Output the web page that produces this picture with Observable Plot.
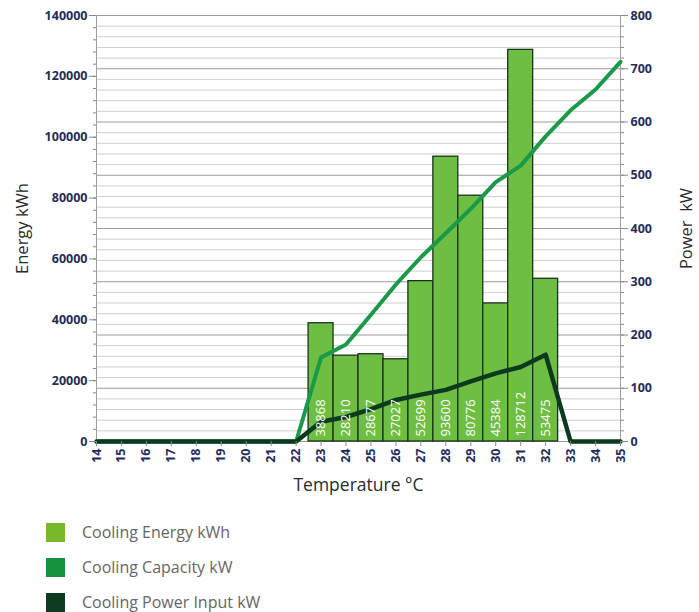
<!DOCTYPE html>
<html>
<head>
<meta charset="utf-8">
<script src="https://cdn.jsdelivr.net/npm/d3@7"></script>
<script src="https://cdn.jsdelivr.net/npm/@observablehq/plot@0.6"></script>
<style>
  html, body { margin: 0; background: #fff; font-family: "Open Sans", sans-serif; overflow: hidden; }
  #chart svg { display: block; }
  .legend { position: relative; height: 102px; }
  .item { position: absolute; left: 46px; height: 19px; line-height: 19px; display: flex; align-items: center; font-size: 16px; color: #666; white-space: nowrap; }
  .sw { width: 19px; height: 19px; margin-right: 17px; flex: none; }
</style>
</head>
<body>
<div id="chart"></div>
<div class="legend" id="legend"></div>
<script>
const temps = d3.range(14, 36);
const barTemps = [23, 24, 25, 26, 27, 28, 29, 30, 31, 32];
const energy = [38868, 28210, 28677, 27027, 52699, 93600, 80776, 45384, 128712, 53475];
const capacity = [0,0,0,0,0,0,0,0,0, 158, 182, 238, 295, 346, 391, 437, 487, 518, 573, 622, 661, 713];
const powerInput = [0,0,0,0,0,0,0,0,0, 37, 46, 61, 78, 88, 97, 113, 128, 140, 163, 0, 0, 0];
const energyTicks = d3.range(0, 140001, 20000);
const powerTicks = d3.range(0, 801, 100);
const seriesNames = ["Cooling Energy kWh", "Cooling Capacity kW", "Cooling Power Input kW"];
const seriesColors = ["#78b929", "#16913d", "#0e3a1f"];

const K = 140000 / 800; // power -> energy scale factor
const bars = barTemps.map((t, i) => ({t, e: energy[i]}));
const capData = temps.map((t, i) => ({t, p: capacity[i] * K}));
const powData = temps.map((t, i) => ({t, p: powerInput[i] * K}));
const grid = d3.range(0, 801, 20).filter(v => v % 100 !== 0).map(v => v * K);
const gridMajor = powerTicks.map(v => v * K);

const navy = "#1f2d5a";
const chart = Plot.plot({
  width: 699,
  height: 510,
  marginLeft: 96,
  marginRight: 79,
  marginTop: 15,
  marginBottom: 69,
  style: {fontFamily: "Open Sans, sans-serif", fontSize: "12px"},
  x: {domain: [14, 35], type: "linear"},
  y: {domain: [0, 140000]},
  marks: [
    Plot.ruleY(grid, {stroke: "#cfcfcf", strokeWidth: 1}),
    Plot.ruleY(gridMajor, {stroke: "#9a9a9a", strokeWidth: 1}),
    Plot.ruleX([35], {stroke: "#a0a0a0"}),
    Plot.ruleX([14], {stroke: "#a0a0a0"}),
    Plot.rectY(bars, {x1: d => d.t - 0.5, x2: d => d.t + 0.5, y: "e", fill: "#6fbe44", stroke: "#17331b", strokeWidth: 1.3}),
    Plot.line(capData, {x: "t", y: "p", stroke: "#1a9a48", strokeWidth: 4}),
    Plot.line(powData, {x: "t", y: "p", stroke: "#0b3a1e", strokeWidth: 4.5}),
    Plot.text(bars, {x: "t", y: 0, text: d => String(d.e), rotate: -90, textAnchor: "start", dy: -5, fill: "white", fontSize: 13}),
    Plot.axisY(d3.range(0, 140001, 4000), {anchor: "left", tickSize: 3, tickFormat: () => "", stroke: "#888", label: null}),
    Plot.axisY(energyTicks, {anchor: "left", tickSize: 7, tickPadding: 2, tickFormat: d => String(d), fill: navy, stroke: "#888", fontWeight: "bold", fontSize: 12.5, label: null}),
    Plot.axisY(d3.range(0, 801, 20).map(v => v * K), {anchor: "right", tickSize: 3, tickFormat: () => "", stroke: "#888", label: null}),
    Plot.axisY(gridMajor, {anchor: "right", tickSize: 7, tickPadding: 3, tickFormat: d => String(Math.round(d / K)), fill: navy, stroke: "#888", fontWeight: "bold", fontSize: 12.5, label: null}),
    Plot.axisX(temps, {anchor: "bottom", tickRotate: -90, tickSize: 5, tickPadding: 2, tickFormat: d => String(d), fill: navy, stroke: "#888", fontWeight: "bold", fontSize: 12.5, label: null}),
    Plot.text(["Energy kWh"], {frameAnchor: "left", textAnchor: "middle", dx: -74, rotate: -90, fontSize: 16.5, fill: "#2a2a2a"}),
    Plot.text(["Power  kW"], {frameAnchor: "right", textAnchor: "middle", dx: 66, rotate: -90, fontSize: 16.5, fill: "#2a2a2a"}),
    Plot.text(["Temperature °C"], {frameAnchor: "bottom", dy: 49, fontSize: 17.5, fill: "#2a2a2a"})
  ]
});
document.getElementById("chart").append(chart);

const legend = document.getElementById("legend");
seriesNames.forEach((name, i) => {
  const div = document.createElement("div");
  div.className = "item";
  div.style.top = (13 + i * 35) + "px";
  const sw = document.createElement("span");
  sw.className = "sw";
  sw.style.background = seriesColors[i];
  const label = document.createElement("span");
  label.textContent = name;
  div.append(sw, label);
  legend.append(div);
});
</script>
</body>
</html>
